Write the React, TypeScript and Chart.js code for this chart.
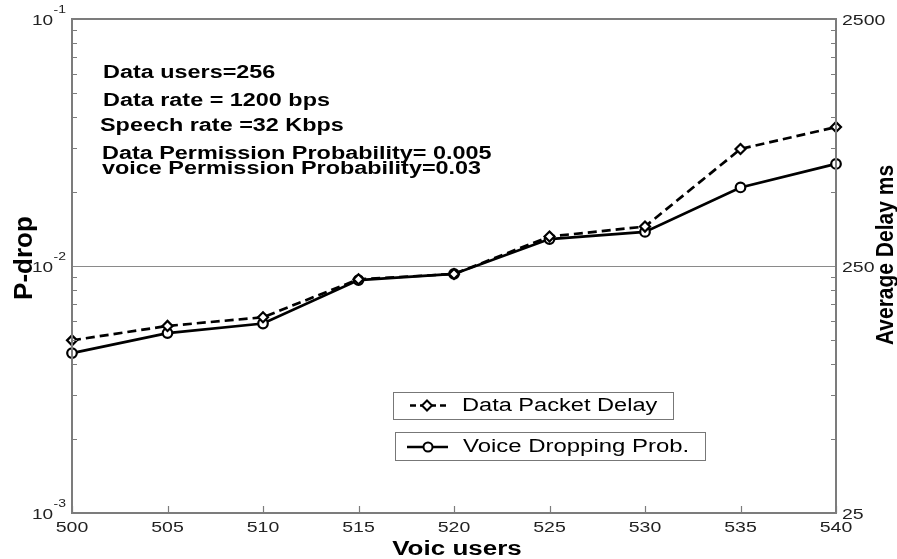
import React, { useEffect, useRef } from "react";
import { Chart, registerables } from "chart.js";

Chart.register(...registerables);

// ---- data ----
const voiceUsers = [500, 505, 510, 515, 520, 525, 530, 535, 540];
const voiceDroppingProb = [0.00444, 0.00535, 0.00585, 0.00877, 0.00929, 0.01285, 0.01374, 0.0208, 0.0259];
const dataPacketDelay = [125, 143, 155, 221, 232, 329, 361, 744, 913];

const xTicks = [500, 505, 510, 515, 520, 525, 530, 535, 540];
const leftMajorTicks = [0.001, 0.01, 0.1];
const leftExponents = ["-3", "-2", "-1"];
const rightMajorTicks = [25, 250, 2500];
const rightTickLabels = ["25", "250", "2500"];
const minorMultipliers = [2, 3, 4, 5, 6, 7, 8, 9];

const annotationLines = [
  "Data users=256",
  "Data rate = 1200 bps",
  "Speech rate =32 Kbps",
  "Data Permission Probability= 0.005",
  "voice Permission Probability=0.03",
];
const legendLabels = ["Data Packet Delay", "Voice Dropping Prob."];

const FONT = '"Liberation Sans", Arial, Helvetica, sans-serif';
const AXIS_GRAY = "#7c7c7c";

function stretchedText(
  ctx: CanvasRenderingContext2D,
  text: string,
  x: number,
  y: number,
  font: string,
  align: CanvasTextAlign,
  baseline: CanvasTextBaseline,
  sx: number,
  color = "#000",
  rotate = 0
) {
  ctx.save();
  ctx.translate(x, y);
  ctx.scale(sx, 1);
  if (rotate) ctx.rotate(rotate);
  ctx.font = font;
  ctx.textAlign = align;
  ctx.textBaseline = baseline;
  ctx.fillStyle = color;
  ctx.fillText(text, 0, 0);
  ctx.restore();
}

const matlabAxes = {
  id: "matlabAxes",
  beforeDatasetsDraw(chart: any) {
    const { ctx, chartArea, scales } = chart;
    const { left, right } = chartArea;
    const py = Math.round(scales.y.getPixelForValue(0.01)) + 0.5;
    ctx.save();
    ctx.strokeStyle = "#8a8a8a";
    ctx.lineWidth = 1;
    ctx.beginPath();
    ctx.moveTo(left, py);
    ctx.lineTo(right, py);
    ctx.stroke();
    ctx.restore();
  },
  afterDatasetsDraw(chart: any) {
    const { ctx, chartArea, scales } = chart;
    const { left, right, top, bottom } = chartArea;
    const xs = scales.x;
    const ys = scales.y;
    const y2 = scales.y2;
    ctx.save();

    // frame
    ctx.strokeStyle = AXIS_GRAY;
    ctx.lineWidth = 2;
    ctx.strokeRect(left, top, right - left, bottom - top);

    // ticks
    ctx.lineWidth = 1.2;
    ctx.beginPath();
    xTicks.forEach((v) => {
      const px = Math.round(xs.getPixelForValue(v)) + 0.5;
      ctx.moveTo(px, bottom);
      ctx.lineTo(px, bottom - 7);
    });
    leftMajorTicks.forEach((m, i) => {
      if (i === leftMajorTicks.length - 1) return;
      minorMultipliers.forEach((k) => {
        const py = Math.round(ys.getPixelForValue(m * k)) + 0.5;
        ctx.moveTo(left, py);
        ctx.lineTo(left + 5, py);
      });
    });
    rightMajorTicks.forEach((m, i) => {
      if (i === rightMajorTicks.length - 1) return;
      minorMultipliers.forEach((k) => {
        const py = Math.round(y2.getPixelForValue(m * k)) + 0.5;
        ctx.moveTo(right, py);
        ctx.lineTo(right - 5, py);
      });
    });
    ctx.stroke();

    // x tick labels
    xTicks.forEach((v) => {
      const px = xs.getPixelForValue(v);
      stretchedText(ctx, String(v), px, bottom + 19, `15px ${FONT}`, "center", "alphabetic", 1.3, "#222");
    });

    // left tick labels 10^n
    leftMajorTicks.forEach((v, i) => {
      const py = ys.getPixelForValue(v);
      stretchedText(ctx, "10", 32, py + 5.5, `15px ${FONT}`, "left", "alphabetic", 1.27, "#222");
      stretchedText(ctx, leftExponents[i], 53.5, py - 6, `11px ${FONT}`, "left", "alphabetic", 1.27, "#222");
    });

    // right tick labels
    rightMajorTicks.forEach((v, i) => {
      const py = y2.getPixelForValue(v);
      stretchedText(ctx, rightTickLabels[i], right + 6, py + 5.5, `15px ${FONT}`, "left", "alphabetic", 1.3, "#222");
    });

    // axis titles
    stretchedText(ctx, "Voic users", 457, 555, `bold 20px ${FONT}`, "center", "alphabetic", 1.3, "#000");
    stretchedText(ctx, "P-drop", 32, 258, `bold 26px ${FONT}`, "center", "alphabetic", 1.0, "#000", -Math.PI / 2);
    stretchedText(ctx, "Average Delay ms", 893, 255, `bold 21px ${FONT}`, "center", "alphabetic", 1.1, "#000", -Math.PI / 2);

    // annotation text
    const annX = [103, 103, 100, 102, 102];
    const annY = [77.5, 105.5, 130.5, 158.5, 174];
    annotationLines.forEach((t, i) => {
      stretchedText(ctx, t, annX[i], annY[i], `bold 18px ${FONT}`, "left", "alphabetic", 1.3, "#000");
    });

    // legend boxes
    ctx.fillStyle = "#fff";
    ctx.strokeStyle = "#777";
    ctx.lineWidth = 1;
    ctx.fillRect(393.5, 392.5, 280, 27);
    ctx.strokeRect(393.5, 392.5, 280, 27);
    ctx.fillRect(395.5, 432.5, 310, 28);
    ctx.strokeRect(395.5, 432.5, 310, 28);

    // legend symbol 1: dashed + diamond
    ctx.strokeStyle = "#000";
    ctx.lineWidth = 2.5;
    ctx.setLineDash([6, 4]);
    ctx.beginPath();
    ctx.moveTo(410, 405.5);
    ctx.lineTo(446, 405.5);
    ctx.stroke();
    ctx.setLineDash([]);
    ctx.lineWidth = 2;
    ctx.beginPath();
    ctx.moveTo(427, 400.5);
    ctx.lineTo(432, 405.5);
    ctx.lineTo(427, 410.5);
    ctx.lineTo(422, 405.5);
    ctx.closePath();
    ctx.fillStyle = "#fff";
    ctx.fill();
    ctx.stroke();
    // legend symbol 2: solid + circle
    ctx.lineWidth = 2.5;
    ctx.beginPath();
    ctx.moveTo(407, 447);
    ctx.lineTo(448, 447);
    ctx.stroke();
    ctx.lineWidth = 2;
    ctx.beginPath();
    ctx.arc(428, 447, 4.5, 0, Math.PI * 2);
    ctx.fill();
    ctx.stroke();

    stretchedText(ctx, legendLabels[0], 462, 406, `18px ${FONT}`, "left", "middle", 1.31, "#000");
    stretchedText(ctx, legendLabels[1], 463, 447, `18px ${FONT}`, "left", "middle", 1.33, "#000");

    ctx.restore();
  },
};

export default function App() {
  const canvasRef = useRef<HTMLCanvasElement | null>(null);

  useEffect(() => {
    const canvas = canvasRef.current;
    if (!canvas) return;
    const chart = new Chart(canvas, {
      type: "line",
      data: {
        datasets: [
          {
            label: legendLabels[0],
            data: voiceUsers.map((x, i) => ({ x, y: dataPacketDelay[i] })),
            yAxisID: "y2",
            borderColor: "#000",
            borderWidth: 2.7,
            borderDash: [9, 5],
            pointStyle: "rectRot",
            pointRadius: 5,
            pointBorderWidth: 2.2,
            pointBackgroundColor: "#fff",
            pointBorderColor: "#000",
            fill: false,
            tension: 0,
            clip: false,
          },
          {
            label: legendLabels[1],
            data: voiceUsers.map((x, i) => ({ x, y: voiceDroppingProb[i] })),
            yAxisID: "y",
            borderColor: "#000",
            borderWidth: 2.7,
            pointStyle: "circle",
            pointRadius: 4.8,
            pointBorderWidth: 2.2,
            pointBackgroundColor: "#fff",
            pointBorderColor: "#000",
            fill: false,
            tension: 0,
            clip: false,
          },
        ],
      },
      options: {
        animation: false,
        responsive: false,
        devicePixelRatio: 1,
        layout: { padding: { left: 72, right: 61, top: 19, bottom: 46 } },
        plugins: { legend: { display: false }, tooltip: { enabled: false }, title: { display: false } },
        scales: {
          x: { type: "linear", min: 500, max: 540, display: false, bounds: "data" },
          y: { type: "logarithmic", min: 0.001, max: 0.1, display: false, bounds: "data", position: "left" },
          y2: { type: "logarithmic", min: 25, max: 2500, display: false, bounds: "data", position: "right" },
        },
      } as any,
      plugins: [matlabAxes],
    });
    return () => chart.destroy();
  }, []);

  return (
    <div style={{ position: "fixed", left: 0, top: 0, width: 897, height: 559, background: "#fff" }}>
      <canvas ref={canvasRef} width={897} height={559} style={{ display: "block", width: 897, height: 559 }} />
    </div>
  );
}
